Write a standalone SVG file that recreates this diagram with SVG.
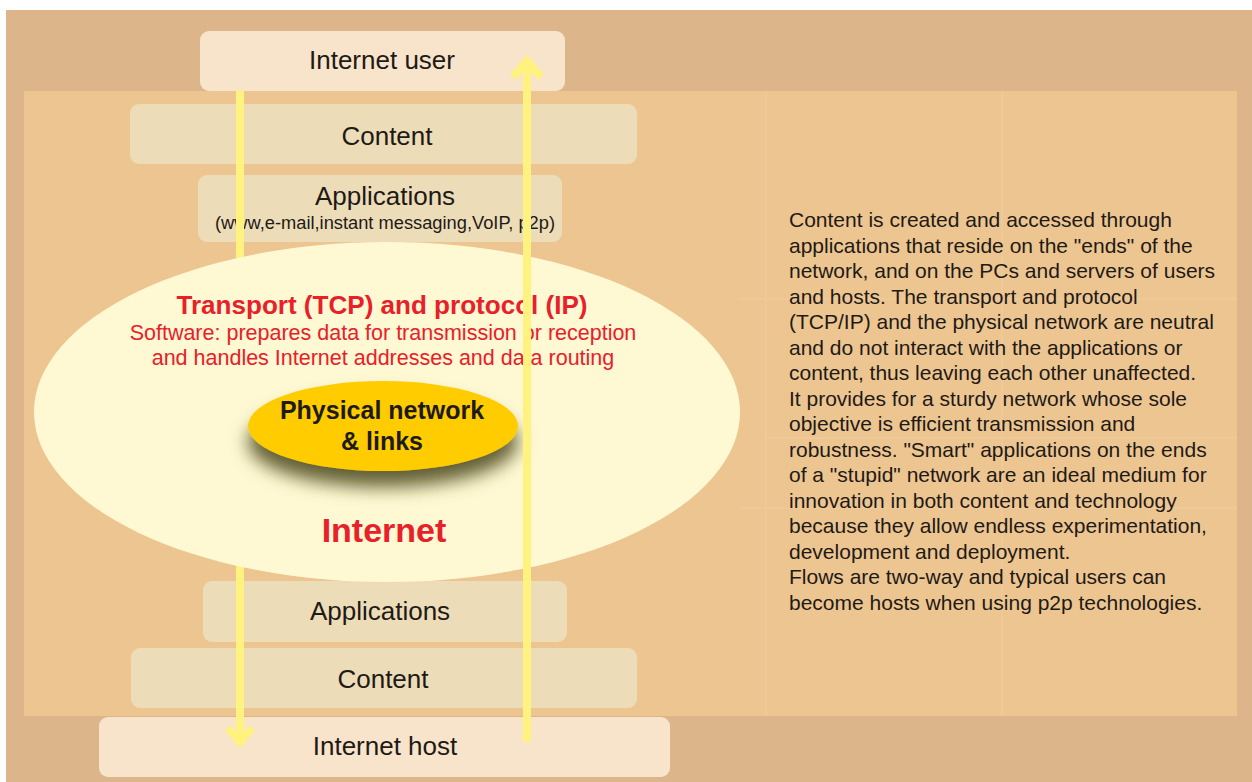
<svg xmlns="http://www.w3.org/2000/svg" width="1252" height="782" viewBox="0 0 1252 782">
<defs>
<style>
.t{font-family:"Liberation Sans",Arial,sans-serif;fill:#1e1a16;text-anchor:middle}
.red{font-family:"Liberation Sans",Arial,sans-serif;fill:#e8202a;text-anchor:middle}
.para{font-family:"Liberation Sans",Arial,sans-serif;fill:#1e1a16;font-size:21px}
.box1{fill:#f8e4ca}
.box2{fill:#eddcb8}
.grid{stroke:#f0cc9c;stroke-width:1;fill:none}
.arrow{stroke:#fff27f;stroke-width:8;fill:none}
</style>
<filter id="sh" x="-30%" y="-30%" width="160%" height="190%">
<feDropShadow dx="0" dy="16" stdDeviation="9" flood-color="#4a4418" flood-opacity="0.85"/>
</filter>
</defs>
<rect x="0" y="0" width="1252" height="782" fill="#ffffff"/>
<rect x="6" y="10" width="1246" height="772" fill="#dcb58a"/>
<rect x="24" y="91" width="1213" height="625" fill="#edc591"/>
<g id="grid">
<line class="grid" x1="766" y1="91" x2="766" y2="716"/>
<line class="grid" x1="1002" y1="91" x2="1002" y2="716"/>
<line class="grid" x1="740" y1="299" x2="1237" y2="299"/>
<line class="grid" x1="740" y1="508" x2="1237" y2="508"/>
<line class="grid" x1="766" y1="438" x2="1237" y2="438"/>
</g>
<g id="internet-user">
<rect class="box1" x="200" y="31" width="365" height="60" rx="9"/>
<text class="t" x="382" y="69" font-size="26">Internet user</text>
</g>
<g id="content-top">
<rect class="box2" x="130" y="104" width="507" height="60" rx="9"/>
<text class="t" x="387" y="145" font-size="26">Content</text>
</g>
<g id="applications-top">
<rect class="box2" x="198" y="175" width="364" height="67" rx="9"/>
<text class="t" x="385" y="205" font-size="26">Applications</text>
<text class="t" x="385" y="229" font-size="18.3">(www,e-mail,instant messaging,VoIP, p2p)</text>
</g>
<g id="applications-bottom">
<rect class="box2" x="203" y="581" width="364" height="61" rx="9"/>
<text class="t" x="380" y="620" font-size="26">Applications</text>
</g>
<g id="content-bottom">
<rect class="box2" x="131" y="648" width="506" height="60" rx="9"/>
<text class="t" x="383" y="688" font-size="26">Content</text>
</g>
<g id="internet-host">
<rect class="box1" x="99" y="717" width="571" height="60" rx="9"/>
<text class="t" x="385" y="755" font-size="26">Internet host</text>
</g>
<g id="connectors">
<g id="flow-down">
<line class="arrow" x1="240" y1="91" x2="240" y2="740"/>
<polyline class="arrow" points="228,728 240,742 252,728" stroke-width="9"/>
</g>
</g>
<g id="internet">
<ellipse cx="387" cy="412" rx="353" ry="170" fill="#fff9d3"/>
<text class="red" x="382" y="314" font-size="25" font-weight="bold" textLength="411" lengthAdjust="spacingAndGlyphs">Transport (TCP) and protocol (IP)</text>
<text class="red" x="383" y="340" font-size="21.5">Software: prepares data for transmission or reception</text>
<text class="red" x="383" y="365" font-size="21.5">and handles Internet addresses and data routing</text>
<text class="red" x="384" y="542" font-size="34" font-weight="bold">Internet</text>
</g>
<g id="physical-network">
<ellipse cx="383" cy="426" rx="135" ry="45" fill="#ffcc00" filter="url(#sh)"/>
<text class="t" x="382" y="419" font-size="25" font-weight="bold">Physical network</text>
<text class="t" x="382" y="450" font-size="25" font-weight="bold">&amp; links</text>
</g>
<g id="connectors-up">
<line class="arrow" x1="527" y1="742" x2="527" y2="62"/>
<polyline class="arrow" points="513,77 527,61 541,77" stroke-width="9"/>
</g>
<g id="description">
<text class="para" x="789" y="227">Content is created and accessed through</text>
<text class="para" x="789" y="252.5">applications that reside on the "ends" of the</text>
<text class="para" x="789" y="278">network, and on the PCs and servers of users</text>
<text class="para" x="789" y="303.5">and hosts. The transport and protocol</text>
<text class="para" x="789" y="329">(TCP/IP) and the physical network are neutral</text>
<text class="para" x="789" y="354.5">and do not interact with the applications or</text>
<text class="para" x="789" y="380">content, thus leaving each other unaffected.</text>
<text class="para" x="789" y="405.5">It provides for a sturdy network whose sole</text>
<text class="para" x="789" y="431">objective is efficient transmission and</text>
<text class="para" x="789" y="456.5">robustness. "Smart" applications on the ends</text>
<text class="para" x="789" y="482">of a "stupid" network are an ideal medium for</text>
<text class="para" x="789" y="507.5">innovation in both content and technology</text>
<text class="para" x="789" y="533">because they allow endless experimentation,</text>
<text class="para" x="789" y="558.5">development and deployment.</text>
<text class="para" x="789" y="584">Flows are two-way and typical users can</text>
<text class="para" x="789" y="609.5">become hosts when using p2p technologies.</text>
</g>
</svg>
